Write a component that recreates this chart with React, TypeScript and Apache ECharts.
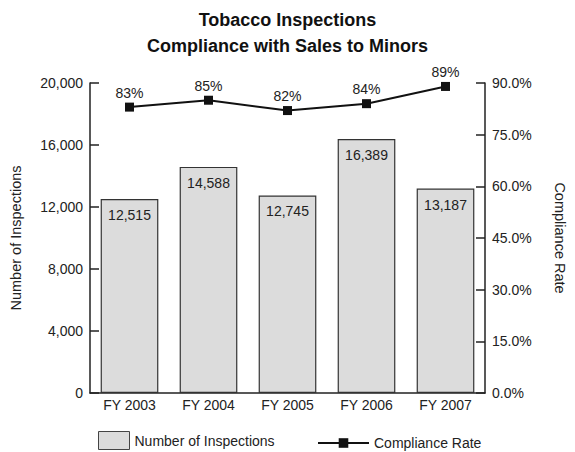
import React, { useEffect, useRef } from "react";
import * as echarts from "echarts";

const categories = ["FY 2003", "FY 2004", "FY 2005", "FY 2006", "FY 2007"];
const inspections = [12515, 14588, 12745, 16389, 13187];
const complianceRate = [83, 85, 82, 84, 89];
const titleLines = ["Tobacco Inspections", "Compliance with Sales to Minors"];

const FONT = "'Liberation Sans', Arial, sans-serif";
const TXT = "#222";

export default function App() {
  const ref = useRef<HTMLDivElement>(null);
  useEffect(() => {
    document.body.style.margin = "0";
    const chart = echarts.init(ref.current!, null, { renderer: "svg" });
    chart.setOption({
      animation: false,
      backgroundColor: "#fff",
      textStyle: { fontFamily: FONT, color: TXT },
      title: {
        text: titleLines.join("\n"),
        left: "center",
        top: 2,
        textStyle: { fontSize: 18, fontWeight: "bold", color: "#111", lineHeight: 26, fontFamily: FONT },
      },
      legend: [
        {
          data: [{ name: "Number of Inspections", icon: "rect" }],
          left: 98,
          top: 431,
          padding: 0,
          itemWidth: 31,
          itemHeight: 18,
          itemGap: 4,
          itemStyle: { color: "#dcdcdc", borderColor: "#444", borderWidth: 1 },
          textStyle: { fontSize: 14, color: TXT, fontFamily: FONT },
        },
        {
          data: ["Compliance Rate"],
          left: 317,
          top: 436,
          padding: 0,
          itemWidth: 51,
          itemHeight: 12,
          textStyle: { fontSize: 14, color: TXT, fontFamily: FONT },
        },
      ],
      grid: { left: 90, right: 88, top: 83, bottom: 59 },
      xAxis: {
        type: "category",
        data: categories,
        axisLine: { lineStyle: { color: "#222", width: 1.5 } },
        axisTick: { show: false },
        axisLabel: { fontSize: 14, color: TXT, margin: 5, fontFamily: FONT },
      },
      yAxis: [
        {
          type: "value",
          min: 0,
          max: 20000,
          interval: 4000,
          position: "left",
          name: "Number of Inspections",
          nameLocation: "middle",
          nameGap: 67,
          nameRotate: 90,
          nameTextStyle: { fontSize: 14.5, color: TXT, fontFamily: FONT },
          axisLine: { show: true, lineStyle: { color: "#222", width: 1.5 } },
          axisTick: { show: true, inside: true, length: 9, lineStyle: { color: "#222", width: 1.5 } },
          splitLine: { show: false },
          axisLabel: {
            fontSize: 14,
            color: TXT,
            margin: 7,
            fontFamily: FONT,
            formatter: (v: number) => v.toLocaleString("en-US"),
          },
        },
        {
          type: "value",
          min: 0,
          max: 90,
          interval: 15,
          position: "right",
          name: "Compliance Rate",
          nameLocation: "middle",
          nameGap: 67,
          nameRotate: -90,
          nameTextStyle: { fontSize: 14.5, color: TXT, fontFamily: FONT },
          axisLine: { show: true, lineStyle: { color: "#222", width: 1.5 } },
          axisTick: { show: true, inside: true, length: 9, lineStyle: { color: "#222", width: 1.5 } },
          splitLine: { show: false },
          axisLabel: {
            fontSize: 14,
            color: TXT,
            margin: 7,
            fontFamily: FONT,
            formatter: (v: number) => v.toFixed(1) + "%",
          },
        },
      ],
      series: [
        {
          name: "Number of Inspections",
          type: "bar",
          data: inspections,
          barWidth: "73%",
          itemStyle: { color: "#dcdcdc", borderColor: "#333", borderWidth: 1.2 },
          label: {
            show: true,
            position: "insideTop",
            distance: 9,
            fontSize: 14,
            color: TXT,
            fontFamily: FONT,
            formatter: (p: any) => Number(p.value).toLocaleString("en-US"),
          },
        },
        {
          name: "Compliance Rate",
          type: "line",
          yAxisIndex: 1,
          data: complianceRate,
          symbol: "rect",
          symbolSize: 9,
          lineStyle: { color: "#111", width: 2 },
          itemStyle: { color: "#111" },
          label: {
            show: true,
            position: "top",
            distance: 3,
            fontSize: 14,
            color: TXT,
            fontFamily: FONT,
            formatter: (p: any) => p.value + "%",
          },
        },
      ],
    });
    return () => chart.dispose();
  }, []);
  return <div ref={ref} style={{ width: 575, height: 452 }} />;
}
